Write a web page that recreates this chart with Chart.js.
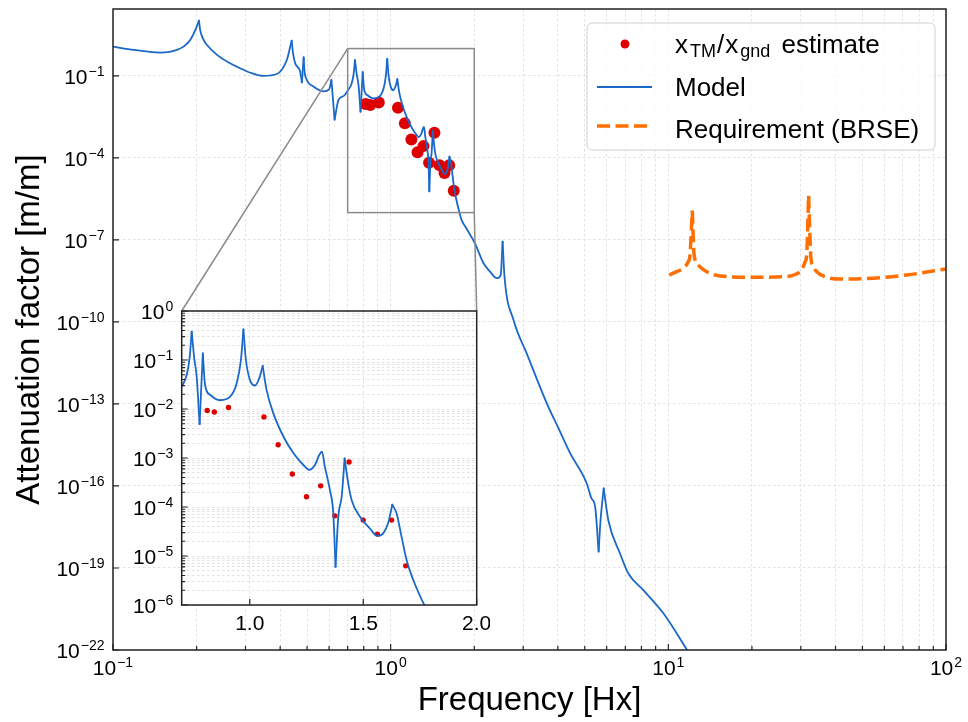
<!DOCTYPE html>
<html>
<head>
<meta charset="utf-8">
<script src="https://cdn.jsdelivr.net/npm/chart.js@4/dist/chart.umd.min.js"></script>
<style>
  body { margin: 0; background: #fff; }
  #wrap { position: relative; width: 968px; height: 722px; }
  #main { position: absolute; left: 0; top: 0; }
  #inset { position: absolute; left: 120px; top: 295px; }
</style>
</head>
<body>
<div id="wrap">
  <canvas id="main" width="968" height="722"></canvas>
  <canvas id="inset" width="370" height="345"></canvas>
</div>
<script>
// model transfer function
const modelFreq = [
  0.100, 0.119, 0.148, 0.160, 0.170, 0.180, 0.190, 0.198, 0.204, 0.206, 0.212, 0.218,
  0.237, 0.261, 0.287, 0.316, 0.348, 0.389, 0.423, 0.432, 0.440, 0.445, 0.453, 0.472,
  0.479, 0.486, 0.489, 0.499, 0.527, 0.573, 0.600, 0.612, 0.628, 0.649, 0.680, 0.700,
  0.722, 0.735, 0.744, 0.755, 0.766, 0.779, 0.793, 0.803, 0.825, 0.869, 0.913, 0.942,
  0.961, 0.972, 0.983, 1.001, 1.023, 1.042, 1.057, 1.074, 1.104, 1.148, 1.192, 1.236,
  1.262, 1.287, 1.306, 1.318, 1.331, 1.353, 1.368, 1.378, 1.390, 1.405, 1.418, 1.434,
  1.449, 1.486, 1.530, 1.562, 1.588, 1.610, 1.628, 1.647, 1.669, 1.691, 1.721, 1.769,
  1.80, 1.88, 2.01, 2.16, 2.28, 2.41, 2.49, 2.53, 2.57, 2.77, 3.09, 3.65,
  4.07, 4.43, 5.08, 5.29, 5.45, 5.61, 5.70, 5.85, 6.08, 6.70, 7.18, 8.13,
  9.60, 11.65, 12.2
];
const modelAtt = [
  1.17, 0.89, 0.71, 0.76, 0.89, 1.2, 2.1, 4.8, 10.5, 4.8, 2.1, 1.35,
  0.59, 0.31, 0.19, 0.126, 0.100, 0.117, 0.39, 0.89, 1.95, 0.68, 0.29, 0.145,
  0.058, 0.48, 0.166, 0.071, 0.041, 0.027, 0.032, 0.071, 0.0025, 0.0132, 0.019, 0.0286,
  0.0494, 0.112, 0.38, 0.112, 0.0457, 0.0049, 0.137, 0.0309, 0.0195, 0.0151, 0.0178, 0.0331,
  0.100, 0.423, 0.100, 0.0389, 0.0302, 0.0427, 0.0759, 0.0245, 0.00813, 0.00275, 0.00126, 7.2e-4,
  5.75e-4, 7.2e-4, 1.15e-3, 1.35e-3, 6.6e-4, 2.24e-4, 7.4e-5, 6.0e-6, 6.3e-5, 1.62e-4, 9.8e-4, 3.0e-4,
  1.38e-4, 6.3e-5, 3.6e-5, 2.57e-5, 2.9e-5, 4.7e-5, 1.12e-4, 7.4e-5, 2.45e-5, 8.3e-6, 3.2e-6, 1.0e-6,
  5.4e-7, 2.5e-7, 7.6e-8, 1.4e-8, 6.9e-9, 4.0e-9, 5.2e-9, 8.7e-8, 4.6e-9, 1.17e-10, 7.1e-12, 1.05e-13,
  1.0e-14, 1.58e-15, 1.26e-16, 3.5e-17, 1.74e-17, 4.0e-19, 5.6e-18, 8.1e-17, 5.6e-18, 3.4e-19, 6.3e-20, 1.55e-20,
  2.2e-21, 1.05e-22, 5.0e-23
];

// measured x_TM / x_gnd
const estFreq = [0.8125, 0.84375, 0.90625, 1.0625, 1.125, 1.1875, 1.25, 1.3125, 1.375, 1.4375, 1.5, 1.5625, 1.625, 1.6875];
const estAtt = [9.3e-3, 8.7e-3, 1.07e-2, 6.9e-3, 1.86e-3, 4.7e-4, 1.62e-4, 2.7e-4, 6.6e-5, 8.3e-4, 5.4e-5, 2.8e-5, 5.4e-5, 6.3e-6];

// BRSE requirement
const reqFreq = [
  10.08, 10.7, 11.3, 11.8, 11.97, 12.2, 12.37, 12.8, 13.75, 15.35, 20.2, 26.7,
  29.0, 30.2, 31.1, 31.5, 32.0, 32.6, 33.1, 34.2, 37.2, 41.5, 54.7, 72.1, 100
];
const reqAtt = [
  5.2e-9, 6.9e-9, 9.1e-9, 1.6e-8, 2.8e-8, 1.17e-6, 3.2e-8, 1.2e-8, 6.9e-9, 4.8e-9, 4.3e-9, 4.6e-9,
  5.8e-9, 7.9e-9, 1.6e-8, 2.8e-8, 4.1e-6, 2.45e-8, 1.2e-8, 6.9e-9, 4.3e-9, 3.7e-9, 4.0e-9, 5.2e-9, 8.7e-9
];

// axes
const xExps = [-1, 0, 1, 2];
const yExps = [-22, -19, -16, -13, -10, -7, -4, -1];
const insetYExps = [0, -1, -2, -3, -4, -5, -6];
const insetXTicks = [1.0, 1.5, 2.0];
const zoomX = [0.7, 2.0];
const zoomY = [1e-6, 1];

const labels = {
  x: "Frequency [Hx]",
  y: "Attenuation factor [m/m]",
  model: "Model",
  req: "Requirement (BRSE)"
};

const FONT = '"Liberation Sans", Arial, Helvetica, sans-serif';
const BLUE = "#1a68c8";
const ORANGE = "#ff6f00";
const RED = "#dd0000";
const INSET_X = 120;
const INSET_Y = 295;

function pairs(xs, ys) {
  return xs.map((x, i) => ({x, y: ys[i]}));
}

// cut the curve at its sharp resonances so the smoothing keeps the tips pointed
function pieces(xs, ys) {
  const cuts = [0];
  for (let i = 1; i < xs.length - 1; i++) {
    const a = Math.log10(ys[i] / ys[i - 1]);
    const b = Math.log10(ys[i] / ys[i + 1]);
    if (a * b > 0 && Math.abs(a) > 0.15 && Math.abs(b) > 0.15) cuts.push(i);
  }
  cuts.push(xs.length - 1);
  return cuts.slice(1).map((end, k) => pairs(xs.slice(cuts[k], end + 1), ys.slice(cuts[k], end + 1)));
}

function logTicks(lo, hi) {
  const out = [];
  for (let e = lo; e < hi; e++) {
    for (let k = 1; k < 10; k++) out.push(k * Math.pow(10, e));
  }
  out.push(Math.pow(10, hi));
  return out;
}

function isPow10(v) {
  const l = Math.log10(v);
  return Math.abs(l - Math.round(l)) < 1e-9;
}

function powLabel(ctx, exp, x, base, align) {
  const sup = exp < 0 ? "\u2212" + Math.abs(exp) : String(exp);
  ctx.font = `21px ${FONT}`;
  const wb = ctx.measureText("10").width;
  ctx.font = `14px ${FONT}`;
  const ws = ctx.measureText(sup).width;
  const total = wb + ws + 1;
  const x0 = align === "right" ? x - total : x - total / 2;
  ctx.fillStyle = "#000";
  ctx.textAlign = "left";
  ctx.textBaseline = "alphabetic";
  ctx.font = `21px ${FONT}`;
  ctx.fillText("10", x0, base);
  ctx.font = `14px ${FONT}`;
  ctx.fillText(sup, x0 + wb + 1, base - 8);
}

function textRun(ctx, str, x, base, size) {
  ctx.font = `${size}px ${FONT}`;
  ctx.fillText(str, x, base);
  return x + ctx.measureText(str).width;
}

function drawLegend(ctx) {
  const bx = 587, by = 23, bw = 348, bh = 127;
  ctx.save();
  ctx.fillStyle = "rgba(255,255,255,0.8)";
  ctx.strokeStyle = "#d0d0d0";
  ctx.lineWidth = 1;
  ctx.beginPath();
  if (ctx.roundRect) ctx.roundRect(bx, by, bw, bh, 5);
  else ctx.rect(bx, by, bw, bh);
  ctx.fill();
  ctx.stroke();

  ctx.fillStyle = RED;
  ctx.beginPath();
  ctx.arc(625, 44, 4.5, 0, Math.PI * 2);
  ctx.fill();

  ctx.fillStyle = "#000";
  ctx.textAlign = "left";
  ctx.textBaseline = "alphabetic";
  let x = 675;
  const b1 = 53;
  x = textRun(ctx, "x", x, b1, 26);
  x = textRun(ctx, "TM", x + 2, b1 + 4, 18);
  x = textRun(ctx, "/", x + 1, b1, 26);
  x = textRun(ctx, "x", x + 1, b1, 26);
  x = textRun(ctx, "gnd", x + 2, b1 + 4, 18);
  textRun(ctx, " estimate", x + 4, b1, 26);

  ctx.strokeStyle = BLUE;
  ctx.lineWidth = 2;
  ctx.beginPath();
  ctx.moveTo(597, 87);
  ctx.lineTo(652, 87);
  ctx.stroke();
  textRun(ctx, labels.model, 675, 95.5, 26);

  ctx.strokeStyle = ORANGE;
  ctx.lineWidth = 3.5;
  ctx.setLineDash([13, 5.5]);
  ctx.beginPath();
  ctx.moveTo(597, 126);
  ctx.lineTo(652, 126);
  ctx.stroke();
  ctx.setLineDash([]);
  textRun(ctx, labels.req, 675, 138, 26);
  ctx.restore();
}

const insetDecor = {
  id: "insetDecor",
  beforeDraw(chart) {
    const {ctx, chartArea: a} = chart;
    ctx.save();
    ctx.fillStyle = "#fff";
    ctx.fillRect(a.left, a.top, a.right - a.left, a.bottom - a.top);
    ctx.restore();
  },
  afterDraw(chart) {
    const {ctx, chartArea: a} = chart;
    const xs = chart.scales.x, ys = chart.scales.y;
    ctx.save();
    ctx.strokeStyle = "#222";
    ctx.lineWidth = 1.2;
    ctx.beginPath();
    ys.ticks.forEach((t) => {
      const y = ys.getPixelForValue(t.value);
      const len = isPow10(t.value) ? 6 : 3.5;
      ctx.moveTo(a.left, y);
      ctx.lineTo(a.left + len, y);
    });
    insetXTicks.forEach((v) => {
      const x = xs.getPixelForValue(v);
      ctx.moveTo(x, a.bottom);
      ctx.lineTo(x, a.bottom - 6);
    });
    ctx.stroke();
    ctx.lineWidth = 1.5;
    ctx.strokeRect(a.left, a.top, a.right - a.left, a.bottom - a.top);

    insetYExps.forEach((e) => {
      const y = ys.getPixelForValue(Math.pow(10, e));
      powLabel(ctx, e, a.left - 8.5, y + 7.6, "right");
    });
    ctx.fillStyle = "#000";
    ctx.font = `21px ${FONT}`;
    ctx.textAlign = "center";
    ctx.textBaseline = "alphabetic";
    insetXTicks.forEach((v) => {
      ctx.fillText(v.toFixed(1), xs.getPixelForValue(v), a.bottom + 24.5);
    });
    ctx.restore();
  }
};

const gridStyle = {color: "#d9d9d9", lineWidth: 0.8, drawTicks: false};
const lineStyle = {showLine: true, pointRadius: 0, cubicInterpolationMode: "monotone", borderCapStyle: "round"};

function modelSets(width) {
  return pieces(modelFreq, modelAtt).map((d) => ({...lineStyle, data: d, borderColor: BLUE, borderWidth: width}));
}

const insetChart = new Chart(document.getElementById("inset"), {
  type: "scatter",
  data: {
    datasets: [
      ...modelSets(1.8),
      {data: pairs(estFreq, estAtt), pointRadius: 2.7, backgroundColor: RED, borderWidth: 0}
    ]
  },
  options: {
    responsive: false,
    animation: false,
    events: [],
    layout: {padding: {top: 16, right: 13.3, left: 0, bottom: 0}},
    plugins: {legend: {display: false}, tooltip: {enabled: false}},
    scales: {
      x: {
        type: "linear", min: zoomX[0], max: zoomX[1],
        afterBuildTicks: (s) => { s.ticks = insetXTicks.map((v) => ({value: v})); },
        afterFit: (s) => { s.height = 35; },
        ticks: {display: false},
        grid: gridStyle,
        border: {display: false, dash: [2.5, 2.5]}
      },
      y: {
        type: "logarithmic", min: zoomY[0], max: zoomY[1],
        afterBuildTicks: (s) => { s.ticks = logTicks(-6, 0).map((v) => ({value: v})); },
        afterFit: (s) => { s.width = 61.7; },
        ticks: {display: false},
        grid: gridStyle,
        border: {display: false, dash: [2.5, 2.5]}
      }
    }
  },
  plugins: [insetDecor]
});

const mainDecor = {
  id: "mainDecor",
  afterDatasetsDraw(chart) {
    const {ctx} = chart;
    const xs = chart.scales.x, ys = chart.scales.y;
    const bx0 = xs.getPixelForValue(zoomX[0]), bx1 = xs.getPixelForValue(zoomX[1]);
    const by0 = ys.getPixelForValue(zoomY[1]), by1 = ys.getPixelForValue(zoomY[0]);
    const ia = insetChart.chartArea;
    ctx.save();
    ctx.strokeStyle = "#8a8a8a";
    ctx.lineWidth = 1.5;
    ctx.strokeRect(bx0, by0, bx1 - bx0, by1 - by0);
    ctx.beginPath();
    ctx.moveTo(bx0, by0);
    ctx.lineTo(INSET_X + ia.left, INSET_Y + ia.top);
    ctx.moveTo(bx1, by1);
    ctx.lineTo(INSET_X + ia.right, INSET_Y + ia.top);
    ctx.stroke();
    ctx.restore();
  },
  afterDraw(chart) {
    const {ctx, chartArea: a} = chart;
    const xs = chart.scales.x, ys = chart.scales.y;
    ctx.save();
    ctx.strokeStyle = "#222";
    ctx.lineWidth = 1.2;
    ctx.beginPath();
    xs.ticks.forEach((t) => {
      const x = xs.getPixelForValue(t.value);
      const len = isPow10(t.value) ? 6 : 4;
      ctx.moveTo(x, a.bottom);
      ctx.lineTo(x, a.bottom - len);
    });
    yExps.forEach((e) => {
      const y = ys.getPixelForValue(Math.pow(10, e));
      ctx.moveTo(a.left, y);
      ctx.lineTo(a.left + 6, y);
    });
    ctx.stroke();
    ctx.lineWidth = 1.5;
    ctx.strokeRect(a.left, a.top, a.right - a.left, a.bottom - a.top);

    yExps.forEach((e) => {
      const y = ys.getPixelForValue(Math.pow(10, e));
      powLabel(ctx, e, a.left - 8.5, y + 7.6, "right");
    });
    xExps.forEach((e) => {
      powLabel(ctx, e, xs.getPixelForValue(Math.pow(10, e)), a.bottom + 25, "center");
    });
    ctx.restore();
    drawLegend(ctx);
  }
};

const mainChart = new Chart(document.getElementById("main"), {
  type: "scatter",
  data: {
    datasets: [
      ...modelSets(1.8),
      ...pieces(reqFreq, reqAtt).map((d) => ({...lineStyle, data: d, borderColor: ORANGE, borderWidth: 3.5, borderDash: [13, 5.5], borderCapStyle: "butt"})),
      {data: pairs(estFreq, estAtt), pointRadius: 6, backgroundColor: RED, borderWidth: 0}
    ]
  },
  options: {
    responsive: false,
    animation: false,
    events: [],
    layout: {padding: {top: 9, right: 22, left: 0, bottom: 0}},
    plugins: {legend: {display: false}, tooltip: {enabled: false}},
    scales: {
      x: {
        type: "logarithmic", min: 0.1, max: 100,
        afterBuildTicks: (s) => { s.ticks = logTicks(-1, 2).map((v) => ({value: v})); },
        afterFit: (s) => { s.height = 72; },
        ticks: {display: false},
        grid: gridStyle,
        border: {display: false, dash: [2.5, 2.5]},
        title: {display: true, text: labels.x, color: "#000", font: {family: FONT, size: 33}, padding: {top: 0, bottom: 1}}
      },
      y: {
        type: "logarithmic", min: 1e-22, max: 28,
        afterBuildTicks: (s) => { s.ticks = yExps.map((e) => ({value: Math.pow(10, e)})); },
        afterFit: (s) => { s.width = 113; },
        ticks: {display: false},
        grid: gridStyle,
        border: {display: false, dash: [2.5, 2.5]},
        title: {display: true, text: labels.y, color: "#000", font: {family: FONT, size: 33}, padding: {top: 10, bottom: 0}}
      }
    }
  },
  plugins: [mainDecor]
});
</script>
</body>
</html>
